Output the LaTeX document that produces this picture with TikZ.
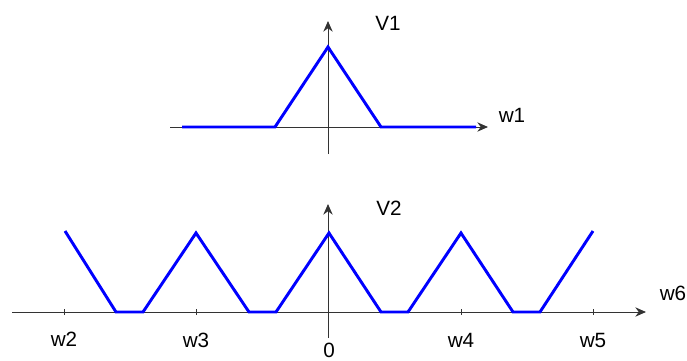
\documentclass[tikz,border=0pt]{standalone}
\usepackage{fontspec}
\setmainfont{Liberation Sans}
\usetikzlibrary{arrows.meta}

\begin{document}
\begin{tikzpicture}[x=0.75pt, y=-0.75pt,
  axis/.style={draw=black!80, line width=0.75pt, -{Stealth[length=8pt, width=7pt]}},
  wave/.style={draw=blue, line width=2.2pt},
  lbl/.style={font=\fontsize{15.5}{18}\selectfont, inner sep=0pt}]
  \useasboundingbox (0,0) rectangle (687,361);

  % upper graph
  \coordinate (xa1) at (170,127);
  \coordinate (xb1) at (488,127);
  \coordinate (ya1) at (328,154);
  \coordinate (yb1) at (328,21);
  \draw[axis] (xa1) -- (xb1);
  \draw[axis] (ya1) -- (yb1);
  \draw[wave] (182,127) -- (275,127) -- (328,47) -- (381,127) -- (476,127);
  \node[lbl] (V1) at (388,23) {V1};
  \node[lbl] (w1) at (512,115) {w1};

  % lower graph
  \coordinate (xa2) at (12,312);
  \coordinate (xb2) at (646,312);
  \coordinate (ya2) at (328,338);
  \coordinate (yb2) at (328,204);
  \draw[axis] (xa2) -- (xb2);
  \draw[axis] (ya2) -- (yb2);
  \foreach \x in {64,196,461,593}
    \draw[black!80, line width=0.75pt] (\x,309) -- (\x,315);
  \draw[wave] (65,231) -- (116,312) -- (143,312) -- (196,233) -- (249,312)
    -- (276,312) -- (329,233) -- (381,312) -- (408,312) -- (461,233)
    -- (513,312) -- (540,312) -- (593,231);
  \node[lbl] (V2) at (389,208) {V2};
  \node[lbl] (w6) at (673,293) {w6};
  \node[lbl] (w2) at (64,339) {w2};
  \node[lbl] (w3) at (196,340) {w3};
  \node[lbl] (zero) at (329,350) {0};
  \node[lbl] (w4) at (461,340) {w4};
  \node[lbl] (w5) at (593,340) {w5};
\end{tikzpicture}
\end{document}
